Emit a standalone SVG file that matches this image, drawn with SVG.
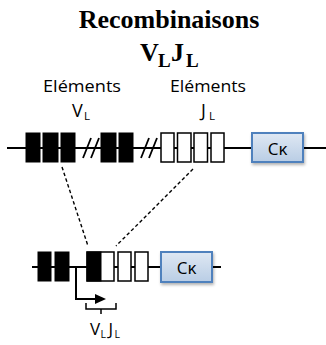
<svg xmlns="http://www.w3.org/2000/svg" width="326" height="345" viewBox="0 0 326 345">
<defs>
<linearGradient id="ckg" x1="0" y1="0" x2="0" y2="1">
<stop offset="0" stop-color="#dfe8f3"/>
<stop offset="1" stop-color="#b9cde5"/>
</linearGradient>
<filter id="sh" x="-20%" y="-20%" width="150%" height="160%">
<feDropShadow dx="1" dy="2" stdDeviation="1.5" flood-color="#000" flood-opacity="0.3"/>
</filter>
</defs>
<style>
.title{font-family:"Liberation Serif","Times New Roman",serif;font-weight:bold;fill:#000}
.lbl{font-family:"Open Sans","Liberation Sans",sans-serif;fill:#000}
.blk{fill:#000;stroke:#000;stroke-width:1}
.wht{fill:#fff;stroke:#000;stroke-width:1.5}
.ck{fill:url(#ckg);stroke:#4f81bd;stroke-width:2;filter:url(#sh)}
.dna{stroke:#000;stroke-width:2;fill:none}
.sl{stroke:#000;stroke-width:1.8;fill:none}
.dash{stroke:#000;stroke-width:1.4;stroke-dasharray:3.5 2.5;fill:none}
</style>

<g id="title">
<text class="title" x="169" y="28" font-size="26" text-anchor="middle">Recombinaisons</text>
<text class="title" x="140" y="61" font-size="26">V</text>
<text class="title" x="158" y="67" font-size="19">L</text>
<text class="title" x="171" y="61" font-size="26">J</text>
<text class="title" x="186" y="67" font-size="19">L</text>
</g>

<g id="label-v">
<text class="lbl" x="43" y="92" font-size="17" textLength="78" lengthAdjust="spacingAndGlyphs">Eléments</text>
<text class="lbl" x="72" y="117" font-size="18">V</text>
<text class="lbl" x="84" y="120" font-size="11.5">L</text>
</g>
<g id="label-j">
<text class="lbl" x="170" y="92" font-size="17" textLength="76" lengthAdjust="spacingAndGlyphs">Eléments</text>
<text class="lbl" x="201" y="117" font-size="18">J</text>
<text class="lbl" x="209" y="120" font-size="11.5">L</text>
</g>

<g id="germline">
<line class="dna" x1="7" y1="148" x2="326" y2="148"/>
<rect class="blk" x="26" y="133" width="14" height="29"/>
<rect class="blk" x="43" y="133" width="15" height="29"/>
<rect class="blk" x="61" y="133" width="14" height="29"/>
<line class="sl" x1="83" y1="158" x2="91" y2="138"/>
<line class="sl" x1="91" y1="158" x2="99" y2="138"/>
<rect class="blk" x="101" y="133" width="15" height="29"/>
<rect class="blk" x="119" y="133" width="14" height="29"/>
<line class="sl" x1="141" y1="158" x2="149" y2="138"/>
<line class="sl" x1="149" y1="158" x2="157" y2="138"/>
<rect class="wht" x="161" y="133" width="13" height="29"/>
<rect class="wht" x="177.5" y="133" width="13.5" height="29"/>
<rect class="wht" x="194" y="133" width="13.5" height="29"/>
<rect class="wht" x="211" y="133" width="13" height="29"/>
</g>
<g id="ck-top">
<rect class="ck" x="252" y="133" width="51" height="29"/>
<text class="lbl" x="277.5" y="154.5" font-size="17" text-anchor="middle">Cκ</text>
</g>

<g id="connectors">
<line class="dash" x1="62" y1="167" x2="88" y2="246"/>
<line class="dash" x1="193" y1="169" x2="116" y2="246"/>
</g>

<g id="rearranged">
<line class="dna" x1="32" y1="267" x2="221" y2="267"/>
<rect class="blk" x="38" y="252" width="13" height="29"/>
<rect class="blk" x="55" y="252" width="14" height="29"/>
<rect class="wht" x="87" y="252" width="27" height="29"/>
<rect class="blk" x="87" y="252" width="14" height="29"/>
<rect class="wht" x="118" y="252" width="13" height="29"/>
<rect class="wht" x="135" y="252" width="13" height="29"/>
</g>
<g id="ck-bottom">
<rect class="ck" x="161" y="252" width="51" height="30"/>
<text class="lbl" x="186.5" y="273.5" font-size="17" text-anchor="middle">Cκ</text>
</g>

<g id="transcript">
<path class="dna" d="M76,268 V299 H97"/>
<polygon points="95,294 106,299 95,304" fill="#000"/>
<path d="M86,303 V309 H116 V303 M101,309 V314" stroke="#000" stroke-width="1.5" fill="none"/>
<text class="lbl" x="90" y="335" font-size="17">V</text>
<text class="lbl" x="100.5" y="338" font-size="10.5">L</text>
<text class="lbl" x="108.5" y="335" font-size="17">J</text>
<text class="lbl" x="114.5" y="338" font-size="10.5">L</text>
</g>
</svg>
